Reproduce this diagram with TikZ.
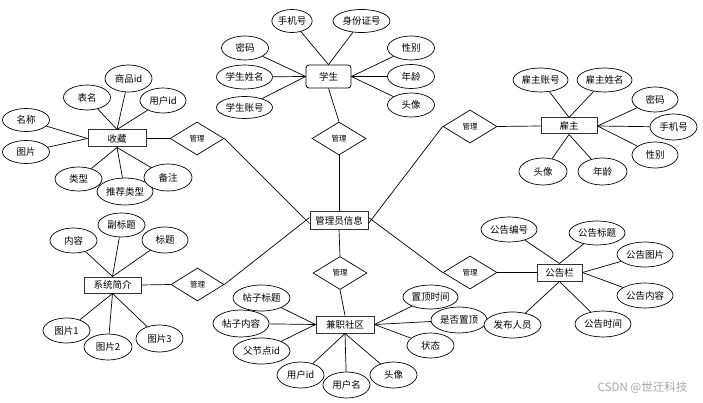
\documentclass[tikz,border=0pt]{standalone}
\usepackage{fontspec}
\setmainfont{Noto Sans CJK SC}
\usetikzlibrary{shapes.geometric}
\begin{document}
\begin{tikzpicture}[x=1pt,y=-1pt,
  line width=0.7pt,
  ent/.style={draw=black!80, line width=1pt, rectangle, minimum width=57pt, minimum height=17pt,
    inner sep=0pt, fill=white, font=\fontsize{9.5}{10}\selectfont},
  attr/.style={draw, ellipse, minimum width=47pt, minimum height=24pt, inner sep=0pt,
    fill=white, font=\fontsize{9.5}{10}\selectfont},
  attrw/.style={attr, minimum width=56pt, minimum height=25pt},
  rel/.style={draw, diamond, minimum width=54pt, minimum height=33pt, inner sep=0pt,
    fill=white, font=\fontsize{7.5}{8}\selectfont},
  wmark/.style={text=black!35, font=\fontsize{11.5}{12}\selectfont, inner sep=0pt}
]
\useasboundingbox (0,0) rectangle (703,403);

% ---------- central ----------
\node[ent, minimum width=58pt] (mgr) at (339,220.5) {管理员信息};

% ---------- student ----------
\node[ent, draw=black, line width=0.75pt, rounded corners=3pt, minimum width=45pt, minimum height=23pt] (stu) at (328.5,76.5) {学生};
\node[attr, minimum width=40pt, minimum height=23pt] (s1) at (292,21) {手机号};
\node[attrw, minimum width=57pt, minimum height=23pt] (s2) at (361.5,21) {身份证号};
\node[attr] (s3) at (245,48) {密码};
\node[attrw, minimum height=24pt] (s4) at (244.5,77) {学生姓名};
\node[attrw, minimum height=22pt] (s5) at (244.5,107.5) {学生账号};
\node[attr] (s6) at (411,48) {性别};
\node[attr] (s7) at (411,76.5) {年龄};
\node[attr] (s8) at (411,105) {头像};
\node[rel] (relS) at (339,138.5) {管理};

% ---------- collection ----------
\node[ent, minimum width=58pt] (fav) at (117,138.5) {收藏};
\node[attr, minimum height=23pt] (f1) at (26,120) {名称};
\node[attr, minimum height=23pt] (f2) at (26,152) {图片};
\node[attr, minimum height=25pt] (f3) at (87,97.5) {表名};
\node[attr, minimum height=27pt] (f4) at (128.5,78.5) {商品id};
\node[attr, minimum width=46pt, minimum height=25pt] (f5) at (163,100.5) {用户id};
\node[attr] (f6) at (78.5,179) {类型};
\node[attrw, minimum height=27pt] (f7) at (125,191.5) {推荐类型};
\node[attr, minimum width=48pt, minimum height=27pt] (f8) at (168,177.5) {备注};
\node[rel] (relF) at (197,138.5) {管理};

% ---------- employer ----------
\node[ent, minimum width=56pt, minimum height=16pt] (emp) at (569,126) {雇主};
\node[attrw, minimum width=55pt, minimum height=24pt] (e1) at (540.5,80) {雇主账号};
\node[attrw, minimum width=55pt, minimum height=24pt] (e2) at (604.5,80) {雇主姓名};
\node[attr, minimum width=46pt, minimum height=25pt] (e3) at (655,99.5) {密码};
\node[attr, minimum height=26pt] (e4) at (673.5,127) {手机号};
\node[attr, minimum width=46pt, minimum height=26pt] (e5) at (655,155) {性别};
\node[attr, minimum width=48pt, minimum height=27pt] (e6) at (543,171.5) {头像};
\node[attr, minimum width=49pt, minimum height=27pt] (e7) at (602.5,171.5) {年龄};
\node[rel] (relE) at (470,126.5) {管理};

% ---------- system intro ----------
\node[ent, minimum height=16pt] (sys) at (112.5,285) {系统简介};
\node[attr, minimum height=25pt] (y1) at (73.5,240.5) {内容};
\node[attr] (y2) at (121.5,225) {副标题};
\node[attr, minimum width=46pt, minimum height=26pt] (y3) at (165,240) {标题};
\node[attr, minimum height=25pt] (y4) at (66.5,330.5) {图片1};
\node[attr, minimum width=48pt, minimum height=26pt] (y5) at (108,347) {图片2};
\node[attr, minimum height=27pt] (y6) at (159.5,338.5) {图片3};
\node[rel, minimum width=53pt] (relY) at (197.5,284.5) {管理};

% ---------- community ----------
\node[ent, minimum width=58pt] (com) at (345,324.5) {兼职社区};
\node[attrw, minimum width=57pt, minimum height=26pt] (c1) at (261.5,298) {帖子标题};
\node[attrw, minimum height=27pt] (c2) at (241,323.5) {帖子内容};
\node[attrw, minimum width=57pt, minimum height=26pt] (c3) at (261.5,351) {父节点id};
\node[attr, minimum height=26pt] (c4) at (300.5,375) {用户id};
\node[attr, minimum height=26pt] (c5) at (346.5,385) {用户名};
\node[attr, minimum height=26pt] (c6) at (393.5,375) {头像};
\node[attrw, minimum width=55pt, minimum height=24pt] (c7) at (430.5,297) {置顶时间};
\node[attrw, minimum height=26pt] (c8) at (459,320) {是否置顶};
\node[attr, minimum height=25pt] (c9) at (430.5,345.5) {状态};
\node[rel] (relC) at (340,273) {管理};

% ---------- notice board ----------
\node[ent, minimum width=45pt] (ann) at (559.5,272.5) {公告栏};
\node[attrw] (a1) at (509,229.5) {公告编号};
\node[attrw, minimum height=24pt] (a2) at (597,233) {公告标题};
\node[attrw] (a3) at (645,254.5) {公告图片};
\node[attrw] (a4) at (645,295.5) {公告内容};
\node[attrw, minimum height=26pt] (a5) at (603,324) {公告时间};
\node[attrw, minimum width=57pt, minimum height=26pt] (a6) at (512.5,325) {发布人员};
\node[rel] (relA) at (470,272.5) {管理};

% ---------- watermark ----------
\node[wmark] (wm) at (642.5,388) {CSDN @世迁科技};

% ---------- connectors ----------
\foreach \n in {s1,s2} \draw (\n) -- (stu.north);
\foreach \n in {s3,s4,s5} \draw (\n) -- (stu.west);
\foreach \n in {s6,s7,s8} \draw (\n) -- (stu.east);
\draw (stu.south) -- (relS.north);
\draw (relS.south) -- (mgr.north);

\foreach \n in {f1,f2} \draw (\n) -- (fav.west);
\foreach \n in {f3,f4,f5} \draw (\n) -- (fav.north);
\foreach \n in {f6,f7,f8} \draw (\n) -- (fav.south);
\draw (fav.east) -- (relF.west);
\draw (relF.east) -- ([yshift=-3pt]mgr.west);

\foreach \n in {e1,e2} \draw (\n) -- (emp.north);
\foreach \n in {e3,e4,e5} \draw (\n) -- (emp.east);
\foreach \n in {e6,e7} \draw (\n) -- (emp.south);
\draw (relE.east) -- (emp.west);
\draw (relE.west) -- ([yshift=-3pt]mgr.east);

\foreach \n in {y1,y2,y3} \draw (\n) -- (sys.north);
\foreach \n in {y4,y5,y6} \draw (\n) -- (sys.south);
\draw (sys.east) -- (relY.west);
\draw (relY.east) -- ([yshift=3pt]mgr.west);

\foreach \n in {c1,c2,c3} \draw (\n) -- (com.west);
\foreach \n in {c4,c5,c6} \draw (\n) -- (com.south);
\foreach \n in {c7,c8,c9} \draw (\n) -- (com.east);
\draw (mgr.south) -- (relC.north);
\draw (relC.south) -- (com.north);

\foreach \n in {a1,a2} \draw (\n) -- (ann.north);
\foreach \n in {a3,a4} \draw (\n) -- (ann.east);
\foreach \n in {a5,a6} \draw (\n) -- (ann.south);
\draw (relA.east) -- (ann.west);
\draw ([yshift=3pt]mgr.east) -- (relA.west);
\end{tikzpicture}
\end{document}
